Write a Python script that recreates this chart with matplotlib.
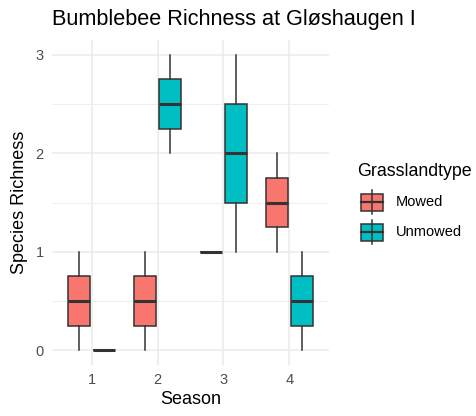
import matplotlib.pyplot as plt
from matplotlib.patches import Rectangle
from matplotlib.lines import Line2D

plt.rcParams["font.family"] = ["Liberation Sans", "DejaVu Sans"]

seasons = [1, 2, 3, 4]
groups = ["Mowed", "Unmowed"]
colors = {"Mowed": "#F8766D", "Unmowed": "#00BFC4"}

# five-number summaries per season: whisker low, q1, median, q3, whisker high
mowed_whislo = [0, 0, 1, 1]
mowed_q1 = [0.25, 0.25, 1, 1.25]
mowed_med = [0.5, 0.5, 1, 1.5]
mowed_q3 = [0.75, 0.75, 1, 1.75]
mowed_whishi = [1, 1, 1, 2]

unmowed_whislo = [0, 2, 1, 0]
unmowed_q1 = [0, 2.25, 1.5, 0.25]
unmowed_med = [0, 2.5, 2, 0.5]
unmowed_q3 = [0, 2.75, 2.5, 0.75]
unmowed_whishi = [0, 3, 3, 1]

W, H = 477, 416
fig = plt.figure(figsize=(W / 100, H / 100), dpi=100)
ax = fig.add_axes([52 / W, 1 - 365 / H, (329 - 52) / W, (365 - 40) / H])


def stats_for(lo, q1, med, q3, hi):
    return [dict(whislo=a, q1=b, med=c, q3=d, whishi=e, fliers=[])
            for a, b, c, d, e in zip(lo, q1, med, q3, hi)]


data = {
    "Mowed": stats_for(mowed_whislo, mowed_q1, mowed_med, mowed_q3, mowed_whishi),
    "Unmowed": stats_for(unmowed_whislo, unmowed_q1, unmowed_med, unmowed_q3, unmowed_whishi),
}
offsets = {"Mowed": -0.1875, "Unmowed": 0.1875}
edge = "#333333"

for g in groups:
    pos = [s + offsets[g] for s in seasons]
    ax.bxp(data[g], positions=pos, widths=0.3375, patch_artist=True,
           showcaps=False, showfliers=False,
           boxprops=dict(facecolor=colors[g], edgecolor=edge, linewidth=1.1),
           medianprops=dict(color=edge, linewidth=2.2, solid_capstyle="butt"),
           whiskerprops=dict(color=edge, linewidth=1.1), zorder=3)

ax.set_xlim(0.4, 4.6)
ax.set_ylim(-0.15, 3.15)
ax.set_xticks(seasons)
ax.set_xticklabels([str(s) for s in seasons])
ax.set_yticks([0, 1, 2, 3])
ax.set_yticks([0.5, 1.5, 2.5], minor=True)
ax.grid(which="major", color="#EBEBEB", linewidth=1.1, zorder=0)
ax.grid(which="minor", axis="y", color="#EBEBEB", linewidth=0.6, zorder=0)
ax.set_axisbelow(True)
for sp in ax.spines.values():
    sp.set_visible(False)
ax.tick_params(which="both", length=0, labelsize=10.5, labelcolor="#4D4D4D", pad=6)
ax.set_xlabel("Season", fontsize=13, labelpad=3)
ax.set_ylabel("Species Richness", fontsize=13, labelpad=5)

fig.text(52 / W, 1 - 20 / H, "Bumblebee Richness at Gløshaugen I", fontsize=15.6,
         ha="left", va="center")


# legend drawn by hand in pixel positions
def fx(x):
    return x / W


def fy(y):
    return 1 - y / H


fig.text(fx(357), fy(171), "Grasslandtype", fontsize=12.8, ha="left", va="center")
for g, yc in zip(groups, [202, 232]):
    fig.add_artist(Line2D([fx(372), fx(372)], [fy(yc - 12), fy(yc + 12)],
                          color=edge, linewidth=1.1, transform=fig.transFigure))
    fig.add_artist(Rectangle((fx(361), fy(yc + 8.5)), fx(22), 17 / H,
                             facecolor=colors[g], edgecolor=edge, linewidth=1.1,
                             transform=fig.transFigure))
    fig.add_artist(Line2D([fx(361), fx(383)], [fy(yc), fy(yc)],
                          color=edge, linewidth=1.6, transform=fig.transFigure))
    fig.text(fx(396), fy(yc), g, fontsize=10.5, ha="left", va="center")

fig.savefig("out.png", dpi=100)
